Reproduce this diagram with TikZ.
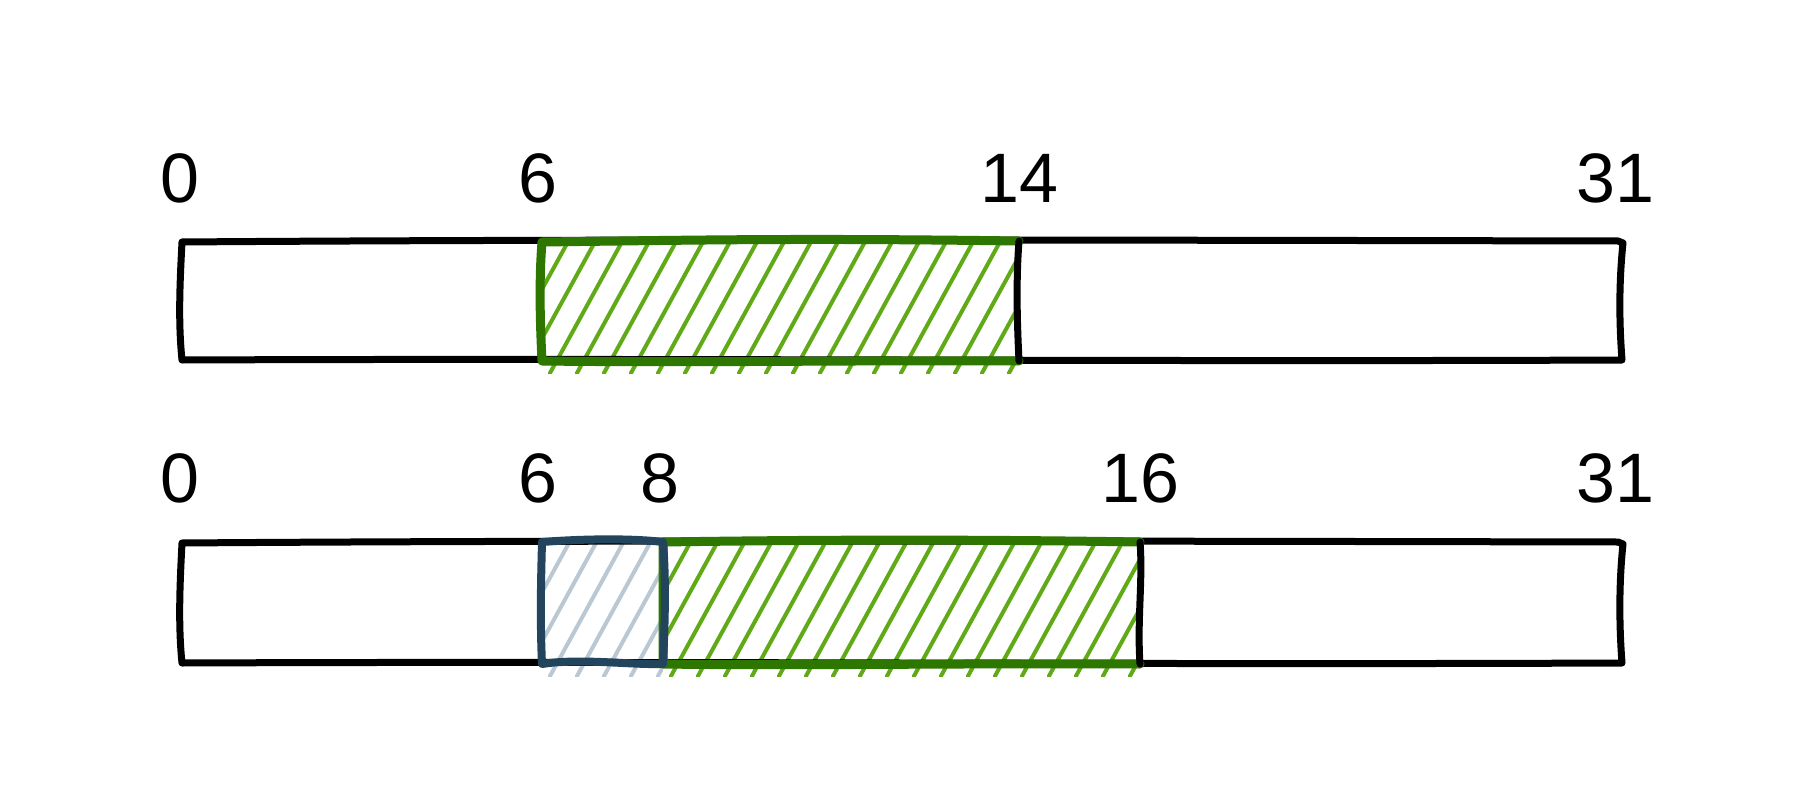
\documentclass[tikz,border=0pt]{standalone}
\usepackage{fontspec}
\setmainfont{Liberation Sans}
\definecolor{hatchgreen}{HTML}{60A917}
\definecolor{strokegreen}{HTML}{2D7600}
\definecolor{hatchblue}{HTML}{BAC8D3}
\definecolor{strokeblue}{HTML}{23445D}
\tikzset{
  outline/.style={line width=7pt, line join=round, line cap=round},
  greenline/.style={outline, strokegreen, line width=9pt},
  blueline/.style={outline, strokeblue, line width=8pt},
  hatchline/.style={line width=4pt, line cap=round},
  num/.style={inner sep=0pt, text depth=0pt, font=\fontsize{70}{84}\selectfont},
}
\newcommand\myhatch[5]{%
  \begin{scope}
    \clip (#1,#2) rectangle (#3,#4+12);
    \foreach \i in {-100,-73,...,600}
      \draw[hatchline, #5] (#1+\i,#4+12) -- ++(73,-133);
  \end{scope}}
% sketchy outer box: x1 y1 x2 y2
\newcommand\sketchbox[4]{%
  \draw[outline] (#1,#2+1) .. controls (#1+400,#2-2) and (#3-500,#2-1) .. (#3-5,#2)
    -- (#3,#2+2) .. controls (#3-4,#2+40) and (#3-4,#4-40) .. (#3-1,#4-1)
    .. controls (#3-500,#4+1) and (#1+500,#4-3) .. (#1,#4-1)
    .. controls (#1-4,#4-40) and (#1-2,#2+40) .. (#1,#2+1) -- cycle;}
\begin{document}
\begin{tikzpicture}[x=1pt,y=-1pt]
\useasboundingbox (0,0) rectangle (1806,786);
\fill[white] (0,0) rectangle (1806,786);
% Row 1
\myhatch{542}{241}{1019}{361}{hatchgreen}
\sketchbox{182}{241}{1623}{361}
\draw[greenline] (1019,241) .. controls (800,238) and (700,240) .. (542,242)
  .. controls (539,280) and (540,320) .. (542,361) .. controls (700,363) and (850,360) .. (1019,361);
\draw[outline] (1019,241) .. controls (1016,280) and (1017,320) .. (1019,361);
\node[num] (a0) at (180,178) {0};
\node[num] (a6) at (538,178) {6};
\node[num] (a14) at (1019,178) {14};
\node[num] (a31) at (1615,178) {31};
% Row 2
\myhatch{542}{542}{663}{664}{hatchblue}
\myhatch{663}{542}{1140}{664}{hatchgreen}
\sketchbox{182}{542}{1623}{664}
\draw[greenline] (1140,542) .. controls (950,539) and (800,540) .. (663,542)
  -- (663,664) .. controls (800,666) and (950,663) .. (1140,664);
\draw[blueline] (542,542) .. controls (580,539) and (630,538) .. (663,542)
  .. controls (666,580) and (665,620) .. (663,664)
  .. controls (630,665) and (580,658) .. (542,664)
  .. controls (540,620) and (541,580) .. (542,542) -- cycle;
\draw[outline] (1140,542) .. controls (1143,580) and (1137,620) .. (1140,664);
\node[num] (b0) at (180,478) {0};
\node[num] (b6) at (538,478) {6};
\node[num] (b8) at (660,478) {8};
\node[num] (b16) at (1140,478) {16};
\node[num] (b31) at (1615,478) {31};
\end{tikzpicture}
\end{document}
